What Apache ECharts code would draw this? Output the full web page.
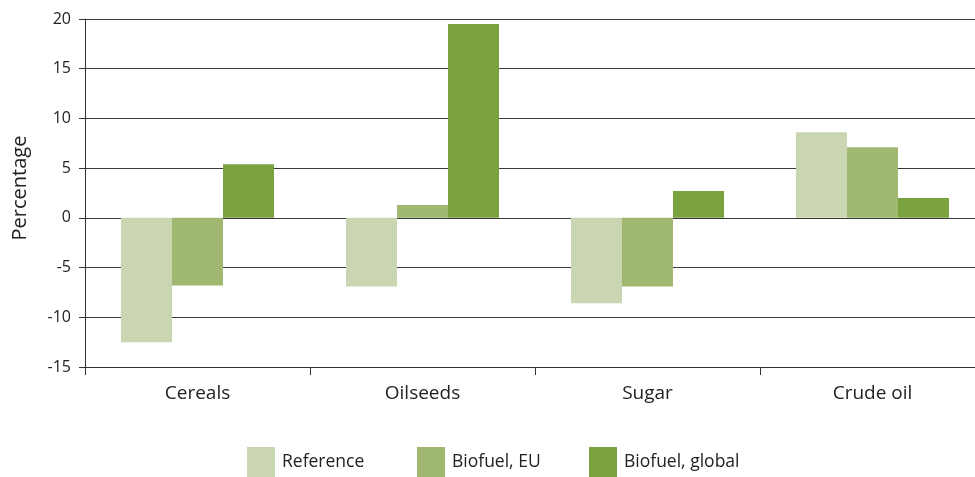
<!DOCTYPE html>
<html>
<head>
<meta charset="utf-8">
<script src="https://cdn.jsdelivr.net/npm/echarts@6/dist/echarts.min.js"></script>
<style>
  html, body { margin: 0; padding: 0; background: #fff; overflow: hidden; }
  /* plot area runs a little past the right edge, like the original */
  #bar { width: 985px; height: 477px; }
</style>
</head>
<body>
<div id="bar"></div>
<script>
const categories = ["Cereals", "Oilseeds", "Sugar", "Crude oil"];
const seriesNames = ["Reference", "Biofuel, EU", "Biofuel, global"];
const reference = [-12.5, -6.9, -8.6, 8.6];
const biofuelEU = [-6.8, 1.3, -6.9, 7.1];
const biofuelGlobal = [5.4, 19.5, 2.7, 2.0];
const colors = ["#cad6b1", "#a0b870", "#7aa23f"];
const fontFam = "'Open Sans', 'Noto Sans', sans-serif";

const chart = echarts.init(document.getElementById("bar"));

function legendFor(name, left) {
  return {
    data: [name],
    left: left,
    top: 447,
    padding: 0,
    itemWidth: 28,
    itemHeight: 31,
    icon: "rect",
    textStyle: { color: "#222", fontSize: 17.5, fontFamily: fontFam, padding: [2, 0, 0, 2] }
  };
}

const option = {
  animation: false,
  color: colors,
  legend: [
    legendFor(seriesNames[0], 247),
    legendFor(seriesNames[1], 417),
    legendFor(seriesNames[2], 589)
  ],
  grid: { left: 85, top: 19, right: 0, bottom: 110, containLabel: false },
  xAxis: {
    type: "category",
    data: categories,
    position: "bottom",
    axisLine: { onZero: false, lineStyle: { color: "#333", width: 1 } },
    axisTick: { show: true, length: 8, interval: 0, lineStyle: { color: "#333" } },
    axisLabel: { color: "#222", fontSize: 19, fontFamily: fontFam, margin: 17 }
  },
  yAxis: {
    type: "value",
    min: -15,
    max: 20,
    interval: 5,
    name: "Percentage",
    nameLocation: "middle",
    nameRotate: 90,
    nameGap: 55,
    nameTextStyle: { color: "#222", fontSize: 20, fontFamily: fontFam, padding: [0, 0, 0, 10] },
    axisLine: { show: true, lineStyle: { color: "#333", width: 1 } },
    axisTick: { show: true, inside: false, length: 6, lineStyle: { color: "#333" } },
    axisLabel: { color: "#222", fontSize: 16, fontFamily: fontFam, margin: 14 },
    splitLine: { show: true, lineStyle: { color: "#3a3a3a", width: 1 } }
  },
  series: [
    { name: seriesNames[0], type: "bar", data: reference, barGap: "0%", barCategoryGap: "32%" },
    { name: seriesNames[1], type: "bar", data: biofuelEU, barGap: "0%", barCategoryGap: "32%" },
    { name: seriesNames[2], type: "bar", data: biofuelGlobal, barGap: "0%", barCategoryGap: "32%" }
  ]
};

chart.setOption(option);
</script>
</body>
</html>
